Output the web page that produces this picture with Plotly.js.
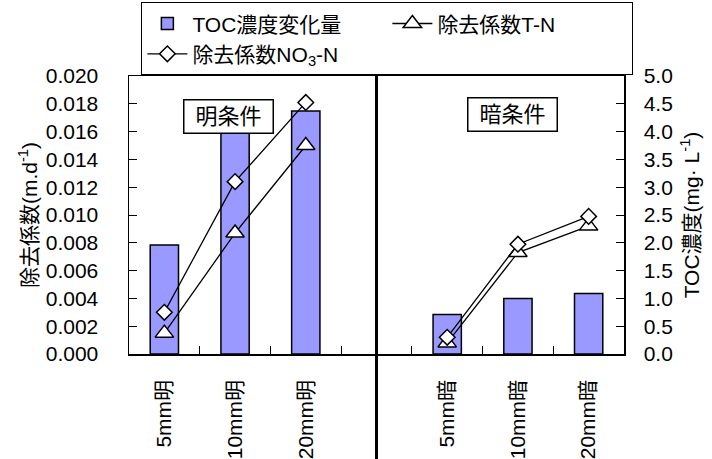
<!DOCTYPE html>
<html>
<head>
<meta charset="utf-8">
<script src="https://cdn.plot.ly/plotly-3.0.1.min.js"></script>
<style>html,body{margin:0;padding:0;background:#fff;}#chart{width:712px;height:459px;}</style>
</head>
<body>
<div id="chart"></div>
<script>
var categories = ['5mm明', '10mm明', '20mm明', ' ', '5mm暗', '10mm暗', '20mm暗'];
var tocValues = [1.96, 4.0, 4.37, null, 0.71, 1.0, 1.09];
var tnValues = [0.0015, 0.0087, 0.0150, null, 0.0008, 0.0073, 0.0092];
var no3Values = [0.0030, 0.0124, 0.0181, null, 0.0012, 0.0079, 0.0099];
var leftTicks = [0, 0.002, 0.004, 0.006, 0.008, 0.010, 0.012, 0.014, 0.016, 0.018, 0.020];
var leftTickText = ['0.000', '0.002', '0.004', '0.006', '0.008', '0.010', '0.012', '0.014', '0.016', '0.018', '0.020'];
var rightTicks = [0, 0.5, 1, 1.5, 2, 2.5, 3, 3.5, 4, 4.5, 5];
var rightTickText = ['0.0', '0.5', '1.0', '1.5', '2.0', '2.5', '3.0', '3.5', '4.0', '4.5', '5.0'];

var FONT = "'Liberation Sans', Arial, 'Noto Sans CJK JP', sans-serif";

var data = [
  {
    type: 'bar', name: 'TOC濃度変化量', x: categories, y: tocValues,
    yaxis: 'y', width: 0.4,
    marker: {color: '#9999FF', line: {color: '#000', width: 1.5}}
  },
  {
    type: 'scatter', mode: 'lines+markers', name: '除去係数T-N', x: categories, y: tnValues,
    yaxis: 'y2', connectgaps: false,
    line: {color: '#000', width: 1.3},
    marker: {symbol: 'triangle-up', size: 16, color: '#fff', line: {color: '#000', width: 1.5}}
  },
  {
    type: 'scatter', mode: 'lines+markers', name: '除去係数NO<sub>3</sub>-N', x: categories, y: no3Values,
    yaxis: 'y2', connectgaps: false,
    line: {color: '#000', width: 1.3},
    marker: {symbol: 'diamond', size: 12, color: '#fff', line: {color: '#000', width: 1.5}}
  }
];

var layout = {
  width: 712, height: 459,
  margin: {l: 128.5, r: 87.5, t: 75.7, b: 105, autoexpand: false},
  paper_bgcolor: '#fff', plot_bgcolor: '#fff',
  font: {family: FONT, size: 21, color: '#000'},
  showlegend: true,
  legend: {
    orientation: 'h', x: 0.025, xanchor: 'left', y: 1.265, yanchor: 'top',
    bordercolor: '#000', borderwidth: 1, bgcolor: '#fff',
    font: {family: FONT, size: 21, color: '#000'},
    entrywidth: 190, itemwidth: 40, traceorder: 'normal'
  },
  xaxis: {
    type: 'category', categoryorder: 'array', categoryarray: categories,
    showline: true, linecolor: '#000', linewidth: 1.5, mirror: true,
    ticks: 'inside', ticklen: 8, tickcolor: '#000', tickwidth: 1, tickson: 'boundaries',
    tickangle: -90, ticklabelstandoff: 16,
    showgrid: false, zeroline: false,
    tickfont: {family: FONT, size: 21, color: '#000'}
  },
  yaxis: {
    side: 'right', range: [0, 5], tickvals: rightTicks, ticktext: rightTickText,
    showline: true, linecolor: '#000', linewidth: 1.5,
    ticks: 'inside', ticklen: 8, tickcolor: '#000', tickwidth: 1,
    ticklabelstandoff: 14,
    showgrid: false, zeroline: false,
    tickfont: {family: FONT, size: 21, color: '#000'},
    title: {text: 'TOC濃度(mg· L<sup>-1</sup>)', font: {family: FONT, size: 21, color: '#000'}, standoff: 12}
  },
  yaxis2: {
    side: 'left', overlaying: 'y', range: [0, 0.02], tickvals: leftTicks, ticktext: leftTickText,
    showline: true, linecolor: '#000', linewidth: 1.5,
    ticks: 'inside', ticklen: 8, tickcolor: '#000', tickwidth: 1,
    ticklabelstandoff: 25,
    showgrid: false, zeroline: false,
    tickfont: {family: FONT, size: 21, color: '#000'},
    title: {text: '除去係数(m.d<sup>-1</sup>)', font: {family: FONT, size: 21, color: '#000'}, standoff: 2}
  },
  shapes: [
    {type: 'line', xref: 'x', yref: 'paper', x0: 3, x1: 3, y0: -0.38, y1: 1, line: {color: '#000', width: 3}, layer: 'above'}
  ],
  annotations: [
    {text: '明条件', xref: 'x', yref: 'paper', x: 0.9, y: 0.916, showarrow: false, width: 80, height: 24,
     font: {family: FONT, size: 22, color: '#000'}, bordercolor: '#000', borderwidth: 1.5, borderpad: 4, bgcolor: '#fff'},
    {text: '暗条件', xref: 'x', yref: 'paper', x: 4.92, y: 0.923, showarrow: false, width: 80, height: 24,
     font: {family: FONT, size: 22, color: '#000'}, bordercolor: '#000', borderwidth: 1.5, borderpad: 4, bgcolor: '#fff'}
  ]
};

Plotly.newPlot('chart', data, layout, {displayModeBar: false, staticPlot: true});
</script>
</body>
</html>
